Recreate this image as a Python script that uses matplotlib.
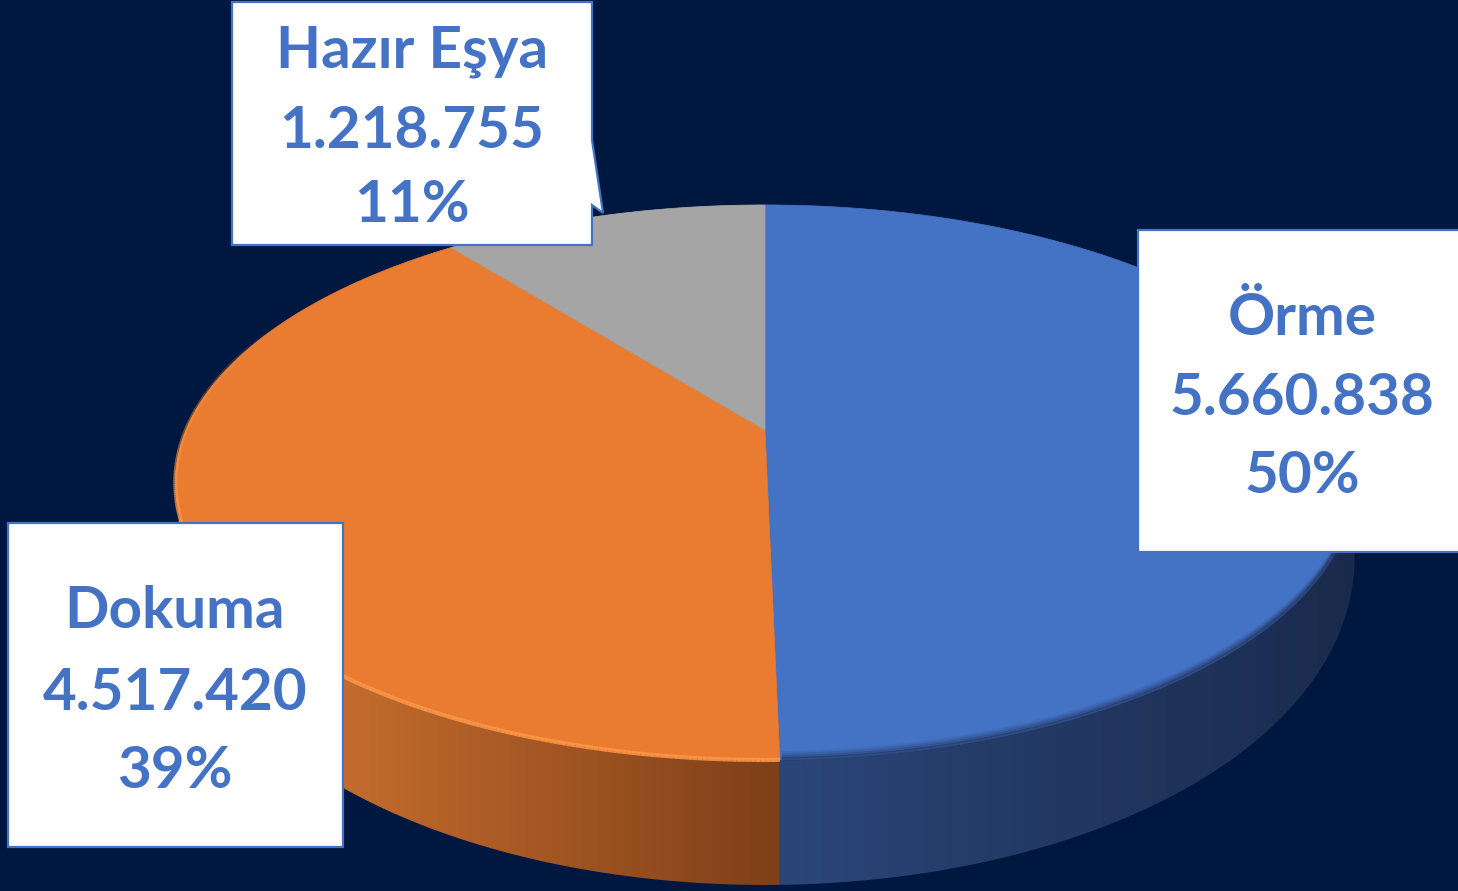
import numpy as np
import matplotlib
matplotlib.use("Agg")
import matplotlib.pyplot as plt
from matplotlib.patches import Polygon, Rectangle
from matplotlib.path import Path
from matplotlib.patches import PathPatch
from matplotlib.colors import LinearSegmentedColormap, to_rgba
from matplotlib.collections import LineCollection

# ======================================================
# DATA
# ======================================================
categories = ["Örme", "Dokuma", "Hazır Eşya"]
values = [5660838, 4517420, 1218755]
pct_labels = ["50%", "39%", "11%"]

top_colors = ["#4472C4", "#E97C30", "#A5A5A5"]
side_left = ["#2B4679", "#C46C2D", "#707070"]
side_right = ["#1A2A4C", "#7E3F19", "#505050"]

BG = "#00173F"
TXT = "#4472C4"

# ======================================================
# GEOMETRY (pixel space, y down)
# ======================================================
X0, Y0 = 765, 430        # projected pie centre
A, B, K = 579, 267.6, 0.189


def top_pt(phi):
    u = np.sin(phi)
    v = -np.cos(phi)
    d = 1 - K * v
    return X0 + A * u / d, Y0 + B * v / d


def bot_pt(phi):
    # side wall: thicker towards the viewer
    x, y = top_pt(phi)
    v = -np.cos(phi)
    return x, y + 63 + 62 * v


fig = plt.figure(figsize=(14.58, 8.91), dpi=100, facecolor=BG)
ax = fig.add_axes([0, 0, 1, 1])
ax.set_facecolor(BG)
ax.set_xlim(0, 1458)
ax.set_ylim(891, 0)
ax.axis("off")

total = sum(values)
bounds = np.concatenate([[0], np.cumsum(values)]) / total * 2 * np.pi

# side walls
for i in range(len(values)):
    phis = np.linspace(bounds[i], bounds[i + 1], 300)
    tx, ty = top_pt(phis)
    bx, by = bot_pt(phis)
    xs = np.concatenate([tx, bx[::-1]])
    ys = np.concatenate([ty, by[::-1]])
    poly = Polygon(np.column_stack([xs, ys]), closed=True, facecolor="none",
                   edgecolor="none")
    ax.add_patch(poly)
    cmap = LinearSegmentedColormap.from_list("w%d" % i, [side_left[i], side_right[i]])
    grad = np.linspace(0, 1, 256)[None, :]
    if i == 0:
        ext = (780, 1360, 900, 380)
    elif i == 1:
        ext = (340, 780, 900, 380)
    else:
        ext = (xs.min(), xs.max(), ys.max(), ys.min())
    im = ax.imshow(grad, cmap=cmap, extent=ext, aspect="auto", zorder=1,
                   interpolation="bilinear")
    im.set_clip_path(poly)
    if i == 1:
        # left part of the orange wall keeps the lighter tone
        left = Rectangle((150, 380), 190, 520, facecolor=side_left[1],
                         edgecolor="none", zorder=1)
        ax.add_patch(left)
        left.set_clip_path(poly)

# top faces
for i in range(len(values)):
    phis = np.linspace(bounds[i], bounds[i + 1], 300)
    tx, ty = top_pt(phis)
    xs = np.concatenate([[X0], tx])
    ys = np.concatenate([[Y0], ty])
    ax.add_patch(Polygon(np.column_stack([xs, ys]), closed=True,
                         facecolor=top_colors[i], edgecolor=top_colors[i],
                         linewidth=0.5, zorder=2))

# rim highlight on the front of the orange slice, fading out on the left
phis = np.linspace(bounds[1], np.deg2rad(295), 300)
hx, hy = top_pt(phis)
pts = np.column_stack([hx, hy]).reshape(-1, 1, 2)
segs = np.concatenate([pts[:-1], pts[1:]], axis=1)
alphas = np.clip((np.deg2rad(295) - phis[:-1]) / np.deg2rad(45), 0, 1) * 0.85
cols = [to_rgba("#FF9848", a) for a in alphas]
ax.add_collection(LineCollection(segs, colors=cols, linewidths=3, zorder=3,
                                 capstyle="butt"))

# soft shadow on the front of the blue rim
phis = np.linspace(np.deg2rad(55), bounds[1] - 0.005, 300)
sx, sy = top_pt(phis)
for off, al in [(-1, 0.55), (-3, 0.35), (-5, 0.2), (-7, 0.1)]:
    ax.plot(sx, sy + off, color="#1F3158", lw=2.5, alpha=al, zorder=3)

# ======================================================
# LABEL BOXES
# ======================================================
edge = "#4472C4"

# Hazır Eşya callout with pointer
verts = [(232, 2), (592, 2), (592, 140), (603, 213), (592, 205),
         (592, 245), (232, 245), (232, 2)]
codes = [Path.MOVETO] + [Path.LINETO] * 6 + [Path.CLOSEPOLY]
ax.add_patch(PathPatch(Path(verts, codes), facecolor="white", edgecolor=edge,
                       lw=1.6, zorder=5))
ax.add_patch(Rectangle((1138, 230), 340, 322, facecolor="white", edgecolor=edge,
                       lw=1.6, zorder=5))
ax.add_patch(Rectangle((8, 523), 335, 324, facecolor="white", edgecolor=edge,
                       lw=1.6, zorder=5))

label_pos = [(1302, [335, 415, 493]), (175, [628, 710, 788]), (412, [68, 148, 222])]
for i, (cx, ys_) in enumerate(label_pos):
    lines = [categories[i], f"{values[i]:,}".replace(",", "."), pct_labels[i]]
    for line, yb in zip(lines, ys_):
        ax.text(cx, yb, line, ha="center", va="baseline", color=TXT,
                fontsize=42, fontweight="bold", family=["Lato", "DejaVu Sans"],
                zorder=6)

fig.savefig("out.png", dpi=100, facecolor=BG)
